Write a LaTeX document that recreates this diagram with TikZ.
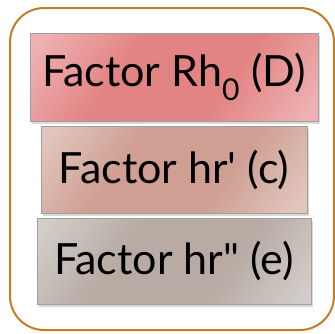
\documentclass[tikz,border=0pt]{standalone}
\usepackage{fontspec}
\setmainfont{Lato}
\usetikzlibrary{shadows,positioning}

\definecolor{framebrown}{HTML}{C27D25}
\definecolor{rhdark}{HTML}{E38484}
\definecolor{rhlight}{HTML}{EEB2B2}
\definecolor{crdark}{HTML}{CE9F92}
\definecolor{crlight}{HTML}{E2C6BD}
\definecolor{erdark}{HTML}{B7ABA3}
\definecolor{erlight}{HTML}{D2CDC8}

\pgfdeclarehorizontalshading[rhlight,rhdark]{rhshade}{100bp}{color(0bp)=(rhlight); color(18bp)=(rhlight); color(38bp)=(rhdark); color(62bp)=(rhdark); color(82bp)=(rhlight); color(100bp)=(rhlight)}
\pgfdeclarehorizontalshading[crlight,crdark]{crshade}{100bp}{color(0bp)=(crlight); color(18bp)=(crlight); color(38bp)=(crdark); color(62bp)=(crdark); color(82bp)=(crlight); color(100bp)=(crlight)}
\pgfdeclarehorizontalshading[erlight,erdark]{ershade}{100bp}{color(0bp)=(erlight); color(18bp)=(erlight); color(38bp)=(erdark); color(62bp)=(erdark); color(82bp)=(erlight); color(100bp)=(erlight)}

\tikzset{
  factor/.style={draw=gray!75, line width=0.6pt, inner sep=0pt,
    font=\fontsize{43}{46}\selectfont, text=black,
    drop shadow={shadow xshift=1.5pt, shadow yshift=-3pt, opacity=0.3},
    shading angle=-35},
}

\begin{document}
\begin{tikzpicture}[x=1pt, y=-1pt]
  \useasboundingbox (0,0) rectangle (335,333);

  % Draw frame
  \draw [framebrown, line width=2pt, rounded corners=34pt] (10,8) rectangle (334,330);

  % Draw factors
  \node (rh) [factor, shading=rhshade, minimum width=288pt, minimum height=88pt]
    at (174,77) {Factor Rh\textsubscript{0} (D)};
  \node (hrc) [factor, shading=crshade, minimum width=266pt, minimum height=87pt]
    at (174,169.5) {Factor hr\textquotesingle{} (c)};
  \node (hre) [factor, shading=ershade, minimum width=274pt, minimum height=86pt]
    at (174,261) {Factor hr\textquotedbl{} (e)};
\end{tikzpicture}
\end{document}
